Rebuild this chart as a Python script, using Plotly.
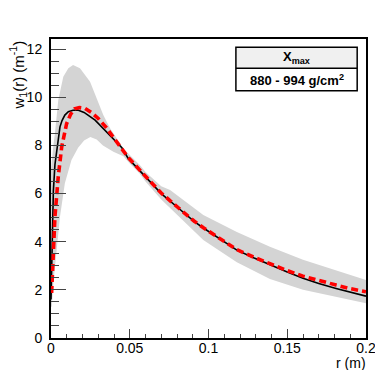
import plotly.graph_objects as go

# band of individual showers (min / max envelope)
band_up_r = [0, 0.0005, 0.0015, 0.0025, 0.0046, 0.0078, 0.011, 0.014, 0.0184, 0.0248, 0.029, 0.0332,
             0.0375, 0.0417, 0.0459, 0.05, 0.0565, 0.06, 0.07, 0.0756, 0.0967, 0.118, 0.139, 0.16, 0.181, 0.2]
band_up = [7.0, 7.4, 8.0, 8.5, 9.88, 10.85, 11.2, 11.34, 11.2, 10.64, 9.95, 9.26,
           8.71, 8.29, 7.88, 7.6, 7.18, 6.9, 6.3, 6.15, 5.11, 4.4, 3.79, 3.25, 2.82, 2.41]
band_lo_r = [0, 0.0005, 0.0015, 0.0036, 0.0057, 0.0088, 0.013, 0.0172, 0.021, 0.025, 0.029, 0.033,
             0.0396, 0.046, 0.05, 0.056, 0.06, 0.07, 0.0756, 0.0967, 0.118, 0.139, 0.16, 0.181, 0.2]
band_lo = [1.3, 1.3, 2.28, 3.65, 5.04, 6.43, 7.39, 7.9, 8.2, 8.35, 8.25, 8.0,
           7.74, 7.55, 7.25, 6.85, 6.5, 5.75, 5.39, 4.07, 3.15, 2.45, 2.0, 1.72, 1.44]

# fitted function (black)
fit_r = [0, 0.0005, 0.001, 0.0015, 0.0025, 0.0036, 0.0046, 0.0057, 0.007, 0.0088, 0.011, 0.014, 0.017,
         0.021, 0.028, 0.034, 0.0385, 0.045, 0.049, 0.055, 0.06, 0.07, 0.081, 0.091, 0.097, 0.108, 0.118,
         0.129, 0.139, 0.15, 0.16, 0.17, 0.181, 0.19, 0.2]
fit_w = [1.6, 3.4, 5.0, 6.1, 7.2, 7.8, 8.35, 8.77, 9.03, 9.26, 9.4, 9.46, 9.47,
         9.37, 9.05, 8.64, 8.36, 7.9, 7.46, 7.05, 6.7, 6.0, 5.39, 4.83, 4.56, 4.1, 3.65,
         3.32, 3.03, 2.74, 2.48, 2.26, 2.06, 1.9, 1.74]

# average (red dashed)
avg_r = [0.0004, 0.0015, 0.0025, 0.0046, 0.0068, 0.0099, 0.0125, 0.015, 0.018, 0.0215, 0.026, 0.03,
         0.035, 0.04, 0.049, 0.06, 0.07, 0.081, 0.091, 0.097, 0.108, 0.118, 0.129, 0.139, 0.15, 0.16,
         0.17, 0.181, 0.19, 0.2]
avg_w = [1.87, 3.38, 5.04, 6.7, 7.94, 8.9, 9.3, 9.52, 9.57, 9.54, 9.35, 9.12,
         8.75, 8.3, 7.5, 6.72, 6.02, 5.4, 4.85, 4.57, 4.12, 3.67, 3.35, 3.07, 2.8, 2.57,
         2.38, 2.2, 2.05, 1.92]

legend_title = "<b>X<sub>max</sub></b>"
legend_text = "<b>880 - 994 g/cm<sup>2</sup></b>"

fig = go.Figure()
fig.add_trace(go.Scatter(x=band_up_r + band_lo_r[::-1], y=band_up + band_lo[::-1],
                         fill='toself', fillcolor='rgb(212,212,212)', line=dict(width=0),
                         mode='lines', hoverinfo='skip'))
fig.add_trace(go.Scatter(x=fit_r, y=fit_w, mode='lines', line=dict(color='black', width=1.6)))
fig.add_trace(go.Scatter(x=avg_r, y=avg_w, mode='lines',
                         line=dict(color='red', width=3.6, dash='7px,4px')))

font = "Liberation Sans, Arial, sans-serif"
# the page body adds an 8px margin, so the figure is sized to fit inside it
fig.update_layout(
    width=367, height=362,
    margin=dict(l=43, r=9, t=31, b=32, autoexpand=False),
    paper_bgcolor='white', plot_bgcolor='white',
    showlegend=False,
    font=dict(family=font, size=14, color='black'),
)
fig.update_xaxes(range=[0, 0.2], dtick=0.05, ticks='inside', ticklen=9, tickwidth=1.2,
                 showgrid=False, zeroline=False, showline=True, linewidth=2, linecolor='black',
                 mirror=True, ticklabelstandoff=-4, ticklabeloverflow='allow',
                 minor=dict(ticks='inside', ticklen=4.5, dtick=0.01, tickwidth=1.2, showgrid=False))
fig.update_yaxes(range=[0, 12.42], dtick=2, ticks='inside', ticklen=15, tickwidth=1.2,
                 showgrid=False, zeroline=False, showline=True, linewidth=2, linecolor='black',
                 mirror=True, ticklabelstandoff=4, ticklabeloverflow='allow',
                 minor=dict(ticks='inside', ticklen=8, dtick=0.5, tickwidth=1.2, showgrid=False))

# legend box
fig.add_shape(type='rect', xref='paper', yref='paper', x0=0.587, x1=0.972, y0=0.902, y1=0.972,
              line=dict(width=0), fillcolor='rgb(240,240,240)')
fig.add_shape(type='rect', xref='paper', yref='paper', x0=0.587, x1=0.972, y0=0.827, y1=0.972,
              line=dict(color='black', width=1.5))
fig.add_shape(type='line', xref='paper', yref='paper', x0=0.587, x1=0.972, y0=0.902, y1=0.902,
              line=dict(color='black', width=1.5))
fig.add_annotation(xref='paper', yref='paper', x=0.78, y=0.937, text=legend_title, showarrow=False,
                   font=dict(size=13), xanchor='center', yanchor='middle')
fig.add_annotation(xref='paper', yref='paper', x=0.78, y=0.864, text=legend_text, showarrow=False,
                   font=dict(size=13), xanchor='center', yanchor='middle')

# axis titles (ROOT style, right aligned)
fig.add_annotation(xref='paper', yref='paper', x=1.0, xshift=2, y=0, yshift=-15, text="r (m)",
                   showarrow=False, font=dict(size=14), xanchor='right', yanchor='top')
fig.add_annotation(xref='paper', yref='paper', x=0, xshift=-33, y=1.0, text="w<sub>1</sub>(r) (m<sup>-1</sup>)",
                   showarrow=False, textangle=-90, font=dict(size=15), xanchor='center', yanchor='top')

fig.write_html("out.html")
